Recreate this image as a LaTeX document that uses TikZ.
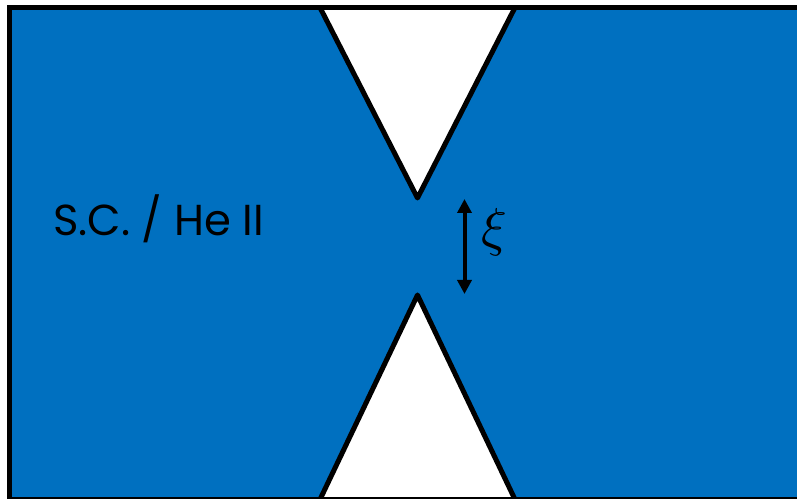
\documentclass[tikz,border=0pt]{standalone}
\usepackage{fontspec}
\setmainfont{Poppins}
\usetikzlibrary{arrows.meta}
\definecolor{JunctionBlue}{HTML}{0070C0}

\begin{document}
\begin{tikzpicture}[x=.75pt,y=-.75pt]
\useasboundingbox (0,0) rectangle (797,499);
\fill[JunctionBlue] (9.5,7.5) rectangle (805,505);
% the two white notches that pinch the channel
\filldraw[fill=white,line width=3.75pt,line join=round] (320,7.5)--(417.5,198)--(515,7.5);
\filldraw[fill=white,line width=3.75pt,line join=round] (320,499.5)--(417.5,295)--(515,499.5);
\draw[line width=3.75pt] (9.5,505)--(9.5,7.5)--(805,7.5) (9.5,499.5)--(805,499.5);
\coordinate (gapTop) at (464.5,199);
\coordinate (gapBot) at (464.5,294);
\draw[{Triangle[width=10.5pt,length=10.5pt]}-{Triangle[width=10.5pt,length=10.5pt]},line width=3pt] (gapTop)--(gapBot);
\node[scale=4] (xi) at (494,232) {$\xi$};
\node[anchor=west,inner sep=0pt] (phase) at (53,219) {\fontsize{32.5}{38}\selectfont S.C. / He II};
\end{tikzpicture}
\end{document}
